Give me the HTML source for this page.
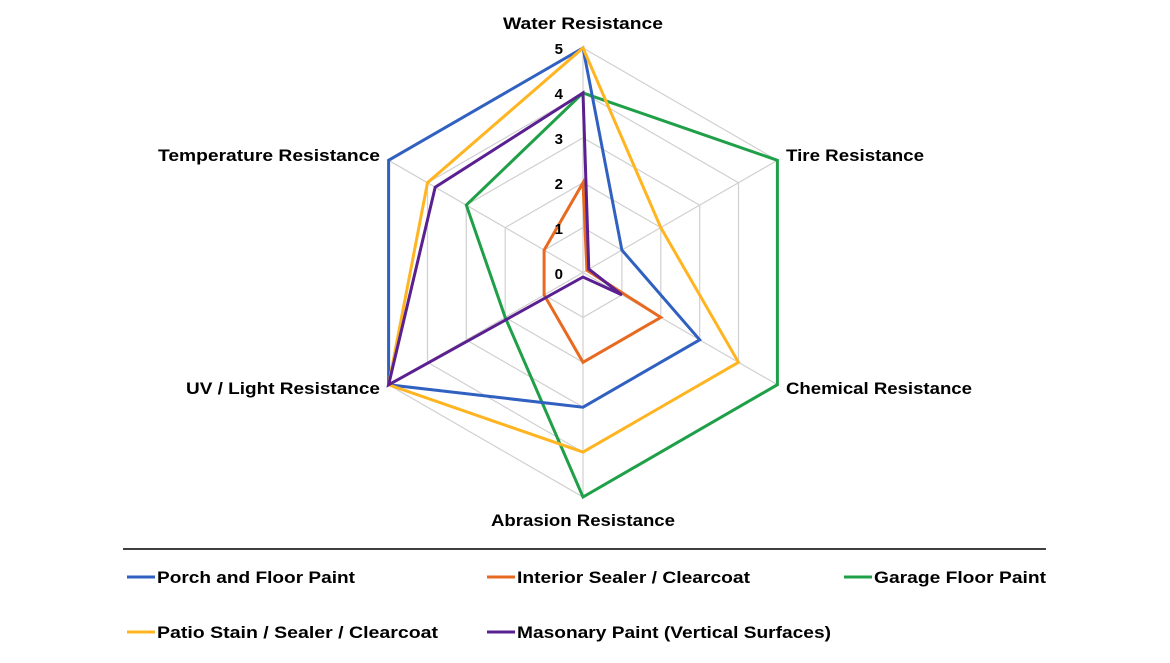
<!DOCTYPE html>
<html><head><style>
body{margin:0;background:#fff;width:1170px;height:658px;overflow:hidden}
text{font-family:"Liberation Sans",sans-serif;font-weight:bold;fill:#000}
</style></head><body>
<svg id="s" width="1170" height="658" xmlns="http://www.w3.org/2000/svg">
<g id="grid" stroke="#d0d0d0" stroke-width="1.2" fill="none"></g>
<g id="series" fill="none" stroke-width="3" stroke-linejoin="miter"></g>
<g font-size="15">
<text x="563" y="54" text-anchor="end">5</text>
<text x="563" y="99" text-anchor="end">4</text>
<text x="563" y="144" text-anchor="end">3</text>
<text x="563" y="189" text-anchor="end">2</text>
<text x="563" y="234" text-anchor="end">1</text>
<text x="563" y="279" text-anchor="end">0</text>
</g>
<g font-size="17">
<text x="583" y="29" text-anchor="middle" textLength="160" lengthAdjust="spacingAndGlyphs">Water Resistance</text>
<text x="786" y="161" textLength="138" lengthAdjust="spacingAndGlyphs">Tire Resistance</text>
<text x="786" y="394" textLength="186" lengthAdjust="spacingAndGlyphs">Chemical Resistance</text>
<text x="583" y="526" text-anchor="middle" textLength="184" lengthAdjust="spacingAndGlyphs">Abrasion Resistance</text>
<text x="380" y="394" text-anchor="end" textLength="194" lengthAdjust="spacingAndGlyphs">UV / Light Resistance</text>
<text x="380" y="161" text-anchor="end" textLength="222" lengthAdjust="spacingAndGlyphs">Temperature Resistance</text>
</g>
<line x1="123" y1="549" x2="1046" y2="549" stroke="#000" stroke-width="1.5"/>
<g stroke-width="3">
<line x1="127" y1="577" x2="155" y2="577" stroke="#3060C0"/>
<line x1="487" y1="577" x2="515" y2="577" stroke="#E86A20"/>
<line x1="844" y1="577" x2="872" y2="577" stroke="#1FA048"/>
<line x1="127" y1="632" x2="155" y2="632" stroke="#FFB521"/>
<line x1="487" y1="632" x2="515" y2="632" stroke="#5A2090"/>
</g>
<g font-size="17">
<text x="157" y="583" textLength="198" lengthAdjust="spacingAndGlyphs">Porch and Floor Paint</text>
<text x="517" y="583" textLength="233" lengthAdjust="spacingAndGlyphs">Interior Sealer / Clearcoat</text>
<text x="874" y="583" textLength="172" lengthAdjust="spacingAndGlyphs">Garage Floor Paint</text>
<text x="157" y="638" textLength="281" lengthAdjust="spacingAndGlyphs">Patio Stain / Sealer / Clearcoat</text>
<text x="517" y="638" textLength="314" lengthAdjust="spacingAndGlyphs">Masonary Paint (Vertical Surfaces)</text>
</g>
</svg>
<script>
var cx=583,cy=272.5,u=44.9,NS="http://www.w3.org/2000/svg";
function pt(i,v){var a=-Math.PI/2+i*Math.PI/3;return (cx+Math.cos(a)*v*u).toFixed(1)+","+(cy+Math.sin(a)*v*u).toFixed(1);}
var g=document.getElementById("grid");
for(var l=1;l<=5;l++){var p=document.createElementNS(NS,"polygon");var s=[];for(var i=0;i<6;i++)s.push(pt(i,l));p.setAttribute("points",s.join(" "));g.appendChild(p);}
for(var i=0;i<6;i++){var ln=document.createElementNS(NS,"polyline");ln.setAttribute("points",pt(i,0)+" "+pt(i,5));g.appendChild(ln);}
var data=[["#1FA048",[4,5,5,5,2,3]],["#3060C0",[5,1,3,3,5,5]],["#FFB521",[5,2,4,4,5,4]],["#E86A20",[2,0.1,2,2,1,1]],["#5A2090",[4,0.15,1,0.1,5,3.8]]];
var sg=document.getElementById("series");
data.forEach(function(d){var p=document.createElementNS(NS,"polygon");var s=[];for(var i=0;i<6;i++)s.push(pt(i,d[1][i]));p.setAttribute("points",s.join(" "));p.setAttribute("stroke",d[0]);sg.appendChild(p);});
</script>
</body></html>
